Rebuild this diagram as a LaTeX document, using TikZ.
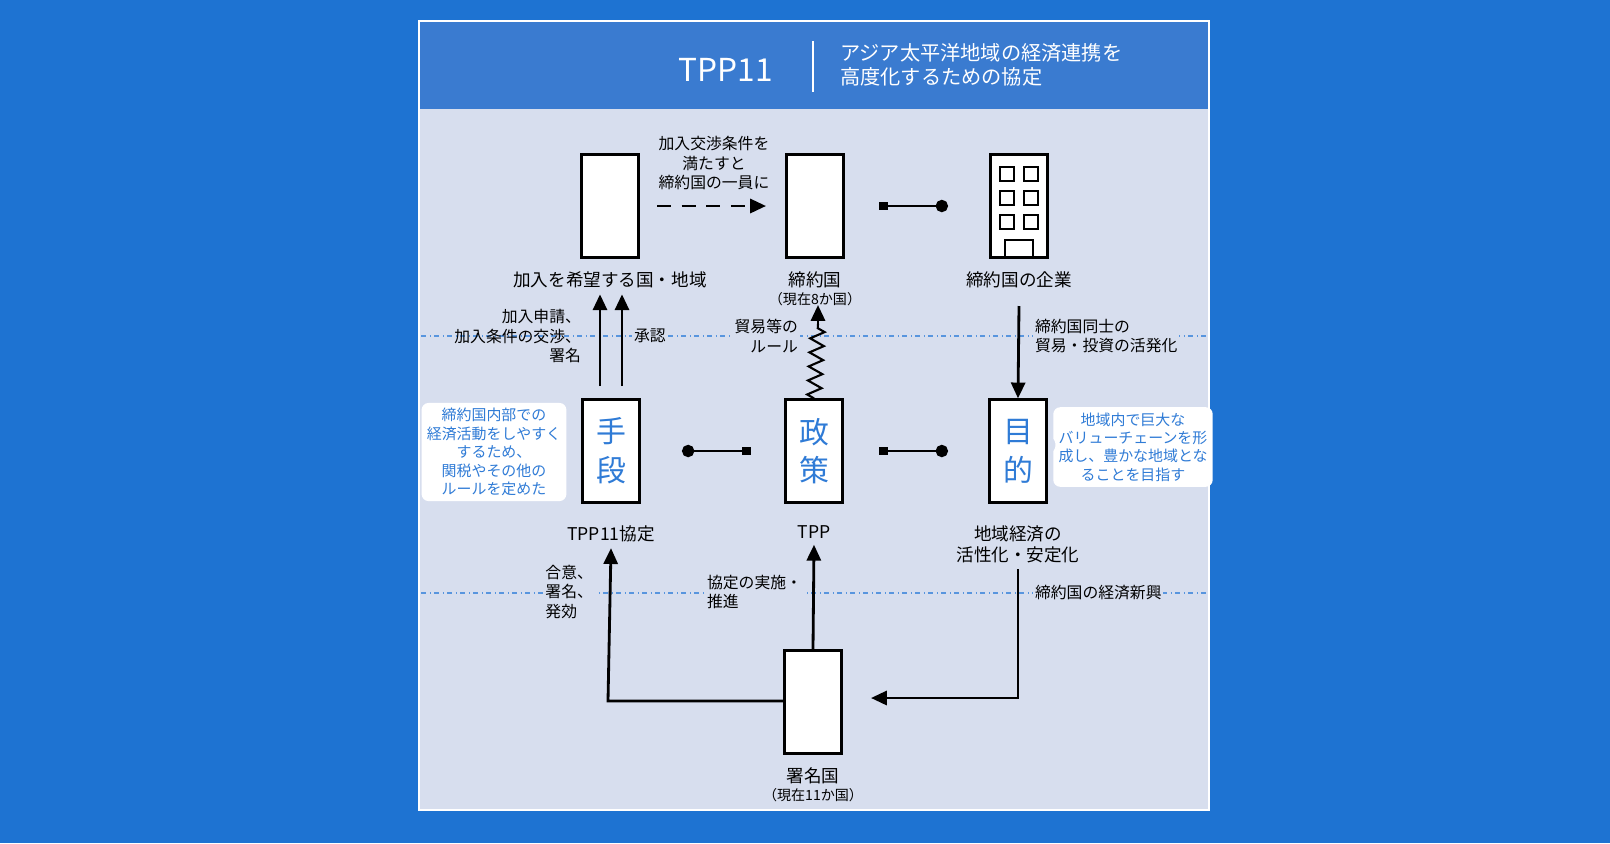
\documentclass[tikz,border=0pt]{standalone}
\usepackage{fontspec}
\setmainfont{Noto Sans CJK JP}
\usetikzlibrary{arrows.meta, positioning, decorations.pathmorphing, shapes.callouts}
\definecolor{bgblue}{HTML}{1E73D2}
\definecolor{headblue}{HTML}{3A7BD0}
\definecolor{panel}{HTML}{D7DEEE}
\definecolor{txtblue}{HTML}{2F7BD6}

\begin{document}
\begin{tikzpicture}[x=0.02cm, y=-0.02cm,
        actor/.style={rectangle, draw, line width=1.6pt, fill=white, minimum width=1.15cm, minimum height=2.05cm, inner sep=0pt},
        label/.style={font=\fontsize{10}{12}\selectfont, align=center},
        note/.style={font=\fontsize{9}{11}\selectfont, align=center, inner sep=1pt},
        bubble/.style={rectangle callout, fill=white, rounded corners=4pt, text=txtblue, font=\fontsize{8.5}{10.5}\selectfont, align=center, inner sep=3pt},
        arrow/.style={-{Triangle[length=9pt, width=8pt]}, line width=1.6pt},
        link/.style={{Square[length=5pt, width=5pt]}-{Circle[length=7pt]}, line width=1.6pt},
        divider/.style={txtblue!80, dash dot, line width=0.8pt}
        ]

        % Background and panel
        \fill[bgblue] (0,0) rectangle (1610,843);
        \fill[panel] (419,21) rectangle (1209,810);
        \fill[headblue] (419,21) rectangle (1209,109);
        \draw[white, line width=1pt] (419,21) rectangle (1209,810);
        \node (title) [text=white, font=\fontsize{18}{20}\selectfont] at (726,70) {TPP11};
        \draw[white, line width=1pt] (813,41) -- (813,92);
        \node (subtitle) [text=white, anchor=west, align=left, font=\fontsize{11.5}{14}\selectfont] at (834,65) {アジア太平洋地域の経済連携を\\高度化するための協定};

        % Dividers
        \draw[divider] (421,336) -- (1209,336);
        \draw[divider] (421,593) -- (1209,593);

        % Top row
        \node (applicant) [actor] at (610,206) {};
        \node (member) [actor] at (815,206) {};
        \node (company) [actor] at (1019,206) {};
        \foreach \r in {0,1,2}{
            \draw[line width=1.2pt] (1000,{167+\r*24}) rectangle +(14,14);
            \draw[line width=1.2pt] (1024,{167+\r*24}) rectangle +(14,14);
        }
        \draw[line width=1.2pt] (1005,257) -- (1005,240) -- (1033,240) -- (1033,257);
        \node (applicantlbl) [label, below=4pt of applicant] {加入を希望する国・地域};
        \node (memberlbl) [label, below=4pt of member, align=center] {締約国\\[-2pt]{\fontsize{8}{9}\selectfont（現在8か国）}};
        \node (companylbl) [label, below=4pt of company] {締約国の企業};

        % Middle row
        \node (means) [actor, text=txtblue, font=\fontsize{17}{22}\selectfont, align=center] at (611,451) {手\\段};
        \node (policy) [actor, text=txtblue, font=\fontsize{17}{22}\selectfont, align=center] at (814,451) {政\\策};
        \node (goal) [actor, text=txtblue, font=\fontsize{17}{22}\selectfont, align=center] at (1018,451) {目\\的};
        \node (meanslbl) [label, below=9pt of means] {TPP11協定};
        \node (policylbl) [label, below=9pt of policy] {TPP};
        \node (goallbl) [label, below=9pt of goal] {地域経済の\\活性化・安定化};
        \node (leftnote) [bubble, callout absolute pointer={(566,451)}] at (494,452) {締約国内部での\\経済活動をしやすく\\するため、\\関税やその他の\\ルールを定めた};
        \node (rightnote) [bubble, callout absolute pointer={(1058,445)}] at (1133,447) {地域内で巨大な\\バリューチェーンを形\\成し、豊かな地域とな\\ることを目指す};

        % Bottom
        \node (signer) [actor] at (813,702) {};
        \node (signerlbl) [label, below=4pt of signer, align=center] {署名国\\[-2pt]{\fontsize{8}{9}\selectfont（現在11か国）}};

        % Connectors
        \coordinate (dashstart) at (657,206);
        \coordinate (dashend) at (766,206);
        \draw[arrow, dashed, dash pattern=on 8pt off 6pt] (dashstart) -- (dashend);
        \node (joinnote) [note] at (714,163) {加入交渉条件を\\満たすと\\締約国の一員に};
        \draw[link] (879,206) -- (948,206);
        \draw[link] (751,451) -- (682,451);
        \draw[link] (879,451) -- (948,451);

        \draw[arrow] (600,386) -- (applicantlbl.south -| 600,0);
        \draw[arrow] (622,386) -- (applicantlbl.south -| 622,0);
        \node (applynote) [note, align=right, anchor=east] at (583,336) {加入申請、\\加入条件の交渉、\\署名};
        \node (approvenote) [note, anchor=west, fill=panel] at (632,336) {承認};

        \draw[line width=1.2pt, decorate, decoration={zigzag, amplitude=4pt, segment length=8pt}] (policy.north) -- (818,324);
        \draw[arrow] (818,326) -- (818,305);
        \node (rulenote) [note, align=right, anchor=east, fill=panel] at (800,336) {貿易等の\\ルール};

        \draw[arrow] (1019,306) -- (goal.north);
        \node (tradenote) [note, align=left, anchor=west, fill=panel] at (1033,336) {締約国同士の\\貿易・投資の活発化};

        \draw[arrow] (signer.west |- 0,701) -- (608,701) -- (meanslbl.south);
        \node (agreenote) [note, align=left, anchor=east, fill=panel] at (595,592) {合意、\\署名、\\発効};
        \draw[arrow] (signer.north) -- (policylbl.south);
        \node (implnote) [note, align=left, anchor=west, fill=panel] at (705,592) {協定の実施・\\推進};
        \draw[arrow] (goallbl.south) -- (1018,698) -- (871,698);
        \node (revivenote) [note, anchor=west, fill=panel] at (1033,593) {締約国の経済新興};

\end{tikzpicture}
\end{document}
